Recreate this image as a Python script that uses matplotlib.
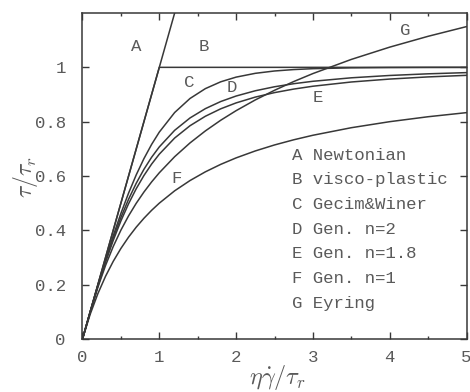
import matplotlib
matplotlib.use("Agg")
import matplotlib.pyplot as plt
from matplotlib.ticker import MultipleLocator

# Dimensionless shear rate samples shared by the curved models
rate = [0, 0.1, 0.2, 0.3, 0.4, 0.5, 0.6, 0.7, 0.8, 0.9, 1.0, 1.2, 1.4, 1.6,
        1.8, 2.0, 2.25, 2.5, 2.75, 3.0, 3.5, 4.0, 4.5, 5.0]

# A: Newtonian
newton_rate = [0, 1.2]
newton_stress = [0, 1.2]

# B: visco-plastic
plastic_rate = [0, 1.0, 5.0]
plastic_stress = [0, 1.0, 1.0]

# C: Gecim & Winer
gecim = [0, 0.0997, 0.1974, 0.2913, 0.3799, 0.4621, 0.5370, 0.6044, 0.6640,
         0.7163, 0.7616, 0.8337, 0.8854, 0.9217, 0.9468, 0.9640, 0.9780,
         0.9866, 0.9918, 0.9951, 0.9982, 0.9993, 0.9998, 0.9999]

# D: generalised model, n = 2
gen_n2 = [0, 0.0995, 0.1961, 0.2873, 0.3714, 0.4472, 0.5145, 0.5735, 0.6247,
          0.6690, 0.7071, 0.7682, 0.8137, 0.8480, 0.8742, 0.8944, 0.9138,
          0.9285, 0.9398, 0.9487, 0.9615, 0.9701, 0.9762, 0.9806]

# E: generalised model, n = 1.8
gen_n18 = [0, 0.0991, 0.1941, 0.2825, 0.3628, 0.4346, 0.4979, 0.5534, 0.6018,
           0.6439, 0.6804, 0.7398, 0.7851, 0.8200, 0.8474, 0.8691, 0.8905,
           0.9070, 0.9200, 0.9305, 0.9461, 0.9569, 0.9648, 0.9706]

# F: generalised model, n = 1
gen_n1 = [0, 0.0909, 0.1667, 0.2308, 0.2857, 0.3333, 0.3750, 0.4118, 0.4444,
          0.4737, 0.5000, 0.5455, 0.5833, 0.6154, 0.6429, 0.6667, 0.6923,
          0.7143, 0.7333, 0.7500, 0.7778, 0.8000, 0.8182, 0.8333]

# G: Eyring
eyring = [0, 0.0986, 0.1900, 0.2705, 0.3403, 0.4006, 0.4533, 0.4997, 0.5410,
          0.5782, 0.6119, 0.6711, 0.7218, 0.7660, 0.8053, 0.8405, 0.8801,
          0.9155, 0.9477, 0.9771, 1.0292, 1.0744, 1.1143, 1.1500]

curve_tags = ["A", "B", "C", "D", "E", "F", "G"]
tag_x = [0.70, 1.58, 1.39, 1.95, 3.07, 1.22, 4.20]
tag_y = [1.075, 1.075, 0.943, 0.925, 0.888, 0.590, 1.134]

legend_lines = ["A Newtonian", "B visco-plastic", "C Gecim&Winer",
                "D Gen. n=2", "E Gen. n=1.8", "F Gen. n=1", "G Eyring"]

x_ticks = [0, 1, 2, 3, 4, 5]
y_ticks = [0, 0.2, 0.4, 0.6, 0.8, 1.0]
y_tick_labels = ["0", "0.2", "0.4", "0.6", "0.8", "1"]

line_col = "#383838"
text_col = "#5a5a5a"
mono = ["Liberation Mono", "DejaVu Sans Mono"]

plt.rcParams["mathtext.fontset"] = "cm"

fig = plt.figure(figsize=(4.70, 3.92), dpi=100)
ax = fig.add_axes([0.1755, 0.1352, 0.8171, 0.8316])

lw = 1.1
ax.plot(newton_rate, newton_stress, color=line_col, lw=lw)
ax.plot(plastic_rate, plastic_stress, color=line_col, lw=lw)
for series in (gecim, gen_n2, gen_n18, gen_n1, eyring):
    ax.plot(rate, series, color=line_col, lw=lw)

ax.set_xlim(0, 5)
ax.set_ylim(0, 1.2)

ax.set_xticks(x_ticks)
ax.set_xticklabels([str(t) for t in x_ticks])
ax.xaxis.set_minor_locator(MultipleLocator(0.5))
ax.set_yticks(y_ticks)
ax.set_yticklabels(y_tick_labels)

ax.tick_params(which="both", direction="in", top=True, right=True,
               color=line_col, width=1.0)
ax.tick_params(which="major", length=5)
ax.tick_params(which="minor", length=2.5)
ax.tick_params(axis="x", which="major", pad=8)
ax.tick_params(axis="y", which="major", pad=12)
for lab in ax.get_xticklabels() + ax.get_yticklabels():
    lab.set_family(mono)
    lab.set_fontsize(12.5)
    lab.set_color(text_col)

for s in ax.spines.values():
    s.set_color(line_col)
    s.set_linewidth(1.1)

for t, tx, ty in zip(curve_tags, tag_x, tag_y):
    ax.text(tx, ty, t, family=mono, fontsize=12.5, color=text_col,
            ha="center", va="center")

leg_x = 292 / 470
leg_y0 = 1 - 155 / 392
leg_dy = 24.7 / 392
for i, line in enumerate(legend_lines):
    fig.text(leg_x, leg_y0 - i * leg_dy, line, family=mono, fontsize=12.5,
             color=text_col, ha="left", va="center")

fig.text(277 / 470, 1 - 378 / 392, r"$\eta\dot{\gamma}/\tau_r$",
         fontsize=17.5, color=text_col, ha="center", va="center")
fig.text(26 / 470, 1 - 177 / 392, r"$\tau/\tau_r$", rotation=90,
         fontsize=17, color=text_col, ha="center", va="center")

fig.savefig("out.png", dpi=100)
